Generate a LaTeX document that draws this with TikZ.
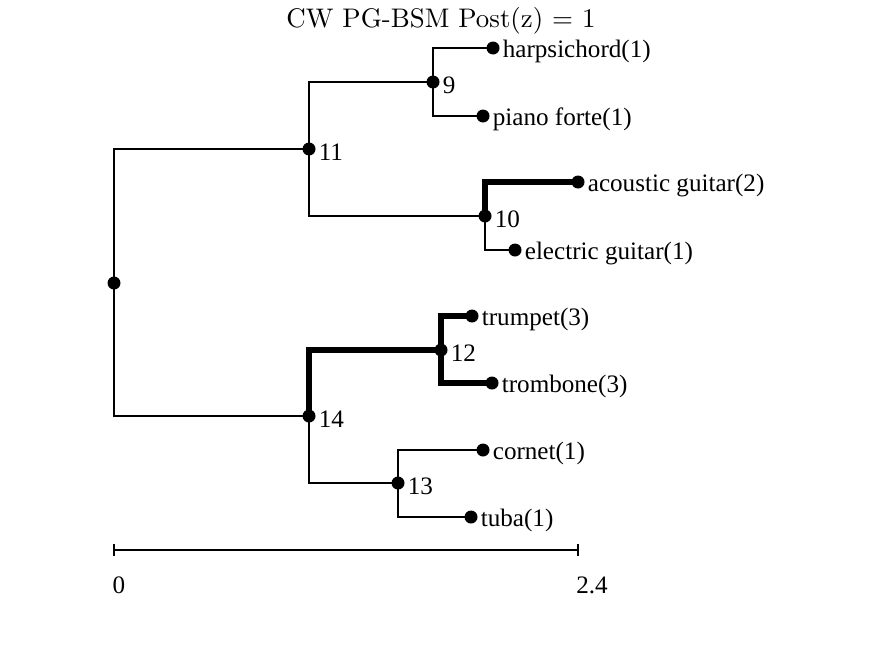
\documentclass[tikz,border=0pt]{standalone}
\usepackage{fontspec}
\newfontfamily\treefont{Liberation Serif}
\usetikzlibrary{positioning}

\begin{document}
\begin{tikzpicture}[x=0.02cm, y=-0.02cm,
        dot/.style={circle, fill=black, inner sep=0pt, minimum size=0.26cm},
        branch/.style={line width=1.1pt},
        heavy/.style={line width=3.4pt},
        every label/.style={inner sep=1.5pt, yshift=-0.07cm, font=\treefont\fontsize{14.3}{16}\selectfont},
        tick/.style={font=\treefont\fontsize{14.3}{16}\selectfont}]
        \useasboundingbox (0,0) rectangle (875,656);

        \node[scale=1.53, font=\fontsize{10}{12}\selectfont] (title) at (441,21) {CW PG-BSM Post(z) = 1};

        % inner nodes
        \node[dot] (root) at (114,283) {};
        \node[dot, label=right:11] (n11) at (309,149) {};
        \node[dot, label=right:14] (n14) at (309,416) {};
        \node[dot, label=right:9] (n9) at (433,82) {};
        \node[dot, label=right:10] (n10) at (485,216) {};
        \node[dot, label=right:12] (n12) at (441,350) {};
        \node[dot, label=right:13] (n13) at (398,483) {};

        % leaves
        \node[dot, label=right:harpsichord(1)] (harpsichord) at (493,48) {};
        \node[dot, label=right:piano forte(1)] (piano) at (483,116) {};
        \node[dot, label=right:acoustic guitar(2)] (acoustic) at (578,182) {};
        \node[dot, label=right:electric guitar(1)] (electric) at (515,250) {};
        \node[dot, label=right:trumpet(3)] (trumpet) at (472,316) {};
        \node[dot, label=right:trombone(3)] (trombone) at (492,383) {};
        \node[dot, label=right:cornet(1)] (cornet) at (483,450) {};
        \node[dot, label=right:tuba(1)] (tuba) at (471,517) {};

        % branches
        \draw[branch] (root.center) |- (n11.center);
        \draw[branch] (root.center) |- (n14.center);
        \draw[branch] (n11.center) |- (n9.center);
        \draw[branch] (n11.center) |- (n10.center);
        \draw[branch] (n9.center) |- (harpsichord.center);
        \draw[branch] (n9.center) |- (piano.center);
        \draw[heavy] (n10.center) |- (acoustic.center);
        \draw[branch] (n10.center) |- (electric.center);
        \draw[heavy] (n14.center) |- (n12.center);
        \draw[branch] (n14.center) |- (n13.center);
        \draw[heavy] (n12.center) |- (trumpet.center);
        \draw[heavy] (n12.center) |- (trombone.center);
        \draw[branch] (n13.center) |- (cornet.center);
        \draw[branch] (n13.center) |- (tuba.center);

        % scale bar
        \coordinate (s0) at (114,550);
        \coordinate (s1) at (578,550);
        \draw[line width=0.8pt] (s0) -- (s1);
        \draw[line width=0.8pt] ([yshift=-0.12cm]s0) -- ([yshift=0.12cm]s0);
        \draw[line width=0.8pt] ([yshift=-0.12cm]s1) -- ([yshift=0.12cm]s1);
        \node[tick] (zero) at (119,585) {0};
        \node[tick] (max) at (592,585) {2.4};
      \end{tikzpicture}
\end{document}
